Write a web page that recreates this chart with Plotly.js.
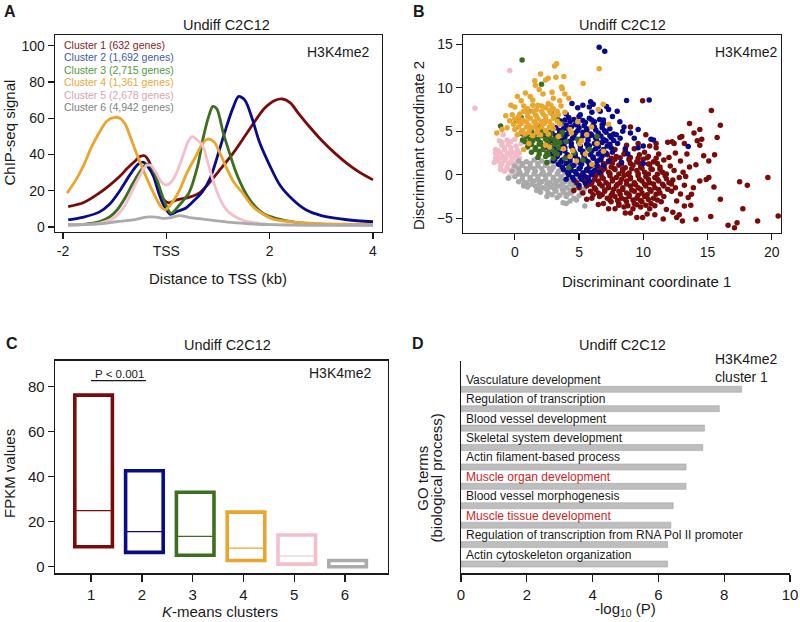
<!DOCTYPE html>
<html><head><meta charset="utf-8">
<script src="https://cdn.plot.ly/plotly-3.0.1.min.js"></script>
<style>html,body{margin:0;padding:0;background:#fff;}#chart{width:800px;height:622px;}</style>
</head><body><div id="chart"></div>
<script>
// ---------- DATA ----------
const clusterNames = ["Cluster 1 (632 genes)","Cluster 2 (1,692 genes)","Cluster 3 (2,715 genes)","Cluster 4 (1,361 genes)","Cluster 5 (2,678 genes)","Cluster 6 (4,942 genes)"];

// Panel A: ChIP-seq profiles (kb vs signal)
const profX1 = [-1.9,-1.6,-1.3,-1.1,-0.9,-0.75,-0.62,-0.5,-0.42,-0.35,-0.25,-0.15,-0.05,0.05,0.2,0.45,0.65,0.85,1.05,1.3,1.6,1.9,2.1,2.25,2.4,2.55,2.75,3.0,3.25,3.5,3.75,4.0];
const profY1 = [11.2,13.5,18.7,23,28,32.5,36,39,39.3,37,30,21,15,13.3,15,16.5,19,25,32,41,53.5,65.5,69.8,70.6,68.5,63,56,48,41,35,30,26];
const profX2 = [-1.9,-1.6,-1.3,-1.1,-0.9,-0.7,-0.55,-0.45,-0.35,-0.25,-0.15,-0.05,0.08,0.2,0.38,0.55,0.7,0.85,1.0,1.15,1.28,1.4,1.52,1.67,1.8,2.0,2.2,2.45,2.7,3.0,3.5,4.0];
const profY2 = [3.9,5.5,8.2,12.5,20,29,34.5,35.8,33,28,19,12,7,8.5,10.5,15,19.5,27,40,54,65,72,70,59,47,34,23,15,9.5,6.3,4,2.9];
const profX3 = [-1.9,-1.6,-1.3,-1.1,-0.95,-0.8,-0.65,-0.5,-0.38,-0.3,-0.2,-0.1,-0.02,0.09,0.25,0.44,0.6,0.72,0.82,0.9,0.98,1.1,1.22,1.35,1.5,1.67,1.9,2.12,2.5,3.0,3.5,4.0];
const profY3 = [1.2,1.5,2.8,5.5,9.5,16,24,31,34.7,33.5,27.5,19,13,7.5,12,19,33,50,61,66.5,65,52,41,30,20.5,13,7,4.8,2.6,1.5,1.2,1.0];
const profX4 = [-1.92,-1.75,-1.6,-1.45,-1.3,-1.15,-1.0,-0.9,-0.8,-0.65,-0.5,-0.35,-0.2,-0.1,-0.02,0.1,0.25,0.4,0.57,0.7,0.8,0.92,1.05,1.15,1.3,1.48,1.65,1.8,2.05,2.44,3.0,3.5,4.0];
const profY4 = [18.7,26,34,44,52,58.5,60.5,60,57,46,35,25,16,11,9.5,13,20,30,39,46,48.5,47,40,33.5,25,18.6,12,8.4,4.5,2.8,1.8,1.5,1.4];
const profX5 = [-1.9,-1.5,-1.3,-1.1,-0.97,-0.8,-0.65,-0.5,-0.38,-0.3,-0.2,-0.1,0,0.1,0.2,0.32,0.42,0.5,0.6,0.7,0.8,0.9,1.03,1.15,1.28,1.5,1.67,2.0,2.5,3.0,4.0];
const profY5 = [1.0,1.5,2.0,3.8,6,12,20.5,29,34,34,30,25,23.2,25,30,39,47,49.8,48,45,36,26,16,10,6.5,3.5,2.5,1.5,1.0,0.9,0.8];
const profX6 = [-1.9,-1.3,-0.97,-0.65,-0.39,-0.2,-0.07,0.1,0.25,0.45,0.64,0.83,1.03,1.3,1.6,2.0,3.0,4.0];
const profY6 = [1.1,1.7,2.9,3.9,5.5,5.5,4.8,5.2,6.3,5.2,4.6,3.9,3.2,2.4,1.8,1.3,1.0,0.9];
const profTickVals = [-2,0,2,4];
const profTickText = ["-2","TSS","2","4"];

// Panel B: discriminant coordinates [dc1, dc2] (representative genes)
const lda1 = [[7.8,2.9],[8.6,2.7],[9.3,3.0],[10.1,2.6],[7.2,2.3],[7.9,2.1],[8.5,2.4],[9.0,2.0],[9.7,2.3],[10.4,2.1],[11.2,2.4],
[6.6,1.7],[7.3,1.5],[7.8,1.8],[8.3,1.4],[8.9,1.7],[9.5,1.5],[10.0,1.8],[10.8,1.5],[11.6,1.7],
[6.0,1.1],[6.5,0.9],[7.0,1.2],[7.5,0.9],[8.1,1.1],[8.6,0.8],[9.2,1.1],[9.8,0.9],[10.5,1.2],[11.3,0.9],[12.1,1.0],
[5.6,0.5],[6.2,0.3],[6.8,0.5],[7.3,0.3],[7.8,0.6],[8.4,0.4],[8.9,0.2],[9.5,0.5],[10.1,0.3],[10.7,0.6],[11.5,0.3],[12.4,0.5],
[5.1,-0.1],[5.7,-0.3],[6.3,-0.1],[6.8,-0.3],[7.4,-0.1],[7.9,-0.3],[8.5,-0.1],[9.0,-0.3],[9.6,-0.1],[10.2,-0.2],[10.9,-0.3],[11.7,-0.1],[12.8,-0.3],
[4.8,-0.9],[5.4,-0.7],[6.0,-0.9],[6.5,-0.7],[7.1,-0.9],[7.6,-0.7],[8.2,-0.9],[8.7,-0.7],[9.3,-0.9],[9.9,-0.7],[10.5,-0.9],[11.2,-0.7],[12.0,-0.9],
[5.0,-1.5],[5.6,-1.3],[6.2,-1.5],[6.8,-1.3],[7.3,-1.5],[7.9,-1.3],[8.4,-1.5],[9.0,-1.3],[9.6,-1.5],[10.2,-1.3],[10.9,-1.5],[11.6,-1.3],[12.5,-1.5],
[5.3,-2.1],[5.9,-1.9],[6.5,-2.1],[7.0,-1.9],[7.6,-2.1],[8.1,-1.9],[8.7,-2.1],[9.3,-1.9],[9.9,-2.1],[10.6,-1.9],[11.3,-2.1],[12.2,-1.9],
[6.0,-2.7],[6.6,-2.5],[7.2,-2.7],[7.8,-2.5],[8.3,-2.7],[8.9,-2.5],[9.5,-2.7],[10.1,-2.5],[10.8,-2.7],[11.6,-2.5],
[6.9,-3.3],[7.5,-3.1],[8.1,-3.3],[8.7,-3.1],[9.3,-3.3],[9.9,-3.1],[10.6,-3.3],[11.4,-3.1],
[7.8,-3.9],[8.5,-3.7],[9.2,-3.9],[9.8,-3.7],[10.5,-3.9],[9.0,-4.4],[10.3,-4.5],
[6.3,-1.7],[7.0,-1.75],[7.7,-1.65],[8.4,-1.7],[9.1,-1.75],[9.8,-1.65],[10.5,-1.7],[11.2,-1.7],[11.9,-1.65],
[5.9,-1.1],[6.6,-1.05],[7.3,-1.15],[8.0,-1.1],[8.7,-1.05],[9.4,-1.15],[10.1,-1.1],[10.8,-1.05],[11.5,-1.1],[12.2,-1.05],
[5.5,-0.5],[6.2,-0.55],[6.9,-0.45],[7.6,-0.5],[8.3,-0.55],[9.0,-0.45],[9.7,-0.5],[10.4,-0.55],[11.1,-0.5],[11.8,-0.45],
[6.0,0.1],[6.7,0.05],[7.4,0.15],[8.1,0.1],[8.8,0.05],[9.6,0.15],[10.4,0.1],[11.1,0.05],[11.8,0.1],
[6.4,0.7],[7.0,0.7],[7.7,0.75],[8.4,0.65],[9.1,0.7],[9.9,0.75],[10.6,0.7],[11.3,0.65],
[6.1,-2.3],[6.8,-2.3],[7.5,-2.35],[8.2,-2.25],[8.9,-2.3],[9.6,-2.35],[10.3,-2.3],[11.0,-2.25],
[6.9,1.3],[7.6,1.35],[8.3,1.25],[9.0,1.3],[9.7,1.35],[10.4,1.25],[11.1,1.3],
[7.5,1.9],[8.2,1.95],[8.9,1.85],[9.6,1.9],[10.3,1.95],[11.0,1.9],
[7.4,-2.9],[8.0,-2.95],[8.6,-2.85],[9.2,-2.9],[9.8,-2.95],[10.4,-2.85],[11.1,-2.9],
[8.1,-3.5],[8.8,-3.55],[9.5,-3.45],[10.2,-3.5],[10.9,-3.55],
[20.5,-4.75],[19.7,-0.3],[18.9,-5.3],[18.1,-1.2],[17.75,-3.9],[17.5,-0.8],[17.3,-5.5],[17.1,-6.1],[16.6,-5.8],[16.0,5.7],
[15.75,4.3],[16.0,-2.8],[15.5,-1.4],[15.3,7.4],[15.25,-4.8],[15.1,-0.3],[14.55,4.1],[14.4,5.2],[14.2,3.9],[13.95,4.8],
[13.6,5.9],[13.0,4.4],[13.2,3.6],[12.4,3.6],[14.7,2.2],[15.55,2.3],[15.1,1.6],[14.1,1.15],[13.1,0.3],[14.9,-0.55],
[14.4,-0.7],[13.3,-0.2],[13.2,-1.2],[13.75,-2.25],[13.5,-2.6],[12.6,-3.0],[13.2,-3.6],[12.6,-4.9],[13.05,-5.3],[14.1,-5.1],
[12.25,3.8],[11.0,3.1],[9.95,8.5],[9.95,-4.9],[11.55,-5.07],[12.8,-4.6],[13.7,-3.5],[14.4,3.4],[12.85,4.3],[9.0,5.5],
[10.2,4.6],[11.0,3.6],[10.5,3.3],[9.6,3.6],[8.7,3.4],[11.9,3.75],[12.5,2.5],[12.9,1.6],[13.4,2.4],[10.9,-4.6],
[11.8,-4.0],[12.3,-4.3],[9.5,-4.9],[8.6,-4.4],[7.3,-3.9],[6.5,-3.4],[5.6,-2.8],[4.6,-1.8],[12.9,-2.2],[13.9,-1.5],
[12.3,-0.6],[13.6,0.9],[12.0,2.0]];
const lda2 = [[4.2,6.6],[5.0,6.7],[5.8,6.5],[3.6,6.0],[4.3,6.1],[4.9,5.9],[5.5,6.0],[6.2,6.1],[6.9,5.9],
[3.2,5.4],[3.8,5.3],[4.4,5.5],[5.0,5.4],[5.6,5.3],[6.2,5.5],[6.8,5.4],[7.4,5.3],
[2.9,4.8],[3.5,4.9],[4.1,4.7],[4.7,4.8],[5.3,4.9],[5.9,4.7],[6.5,4.8],[7.1,4.9],[7.7,4.7],
[2.7,4.2],[3.3,4.1],[3.9,4.3],[4.5,4.2],[5.1,4.1],[5.7,4.3],[6.3,4.2],[6.9,4.1],[7.5,4.3],[8.2,4.2],
[2.6,3.6],[3.2,3.7],[3.8,3.5],[4.4,3.6],[5.0,3.7],[5.6,3.5],[6.2,3.6],[6.8,3.7],[7.4,3.5],[8.0,3.6],
[2.7,3.0],[3.3,2.9],[3.9,3.1],[4.5,3.0],[5.1,2.9],[5.7,3.1],[6.3,3.0],[6.9,2.9],[7.5,3.1],
[2.9,2.4],[3.5,2.5],[4.1,2.3],[4.7,2.4],[5.3,2.5],[5.9,2.3],[6.5,2.4],[7.1,2.5],
[3.1,1.8],[3.7,1.7],[4.3,1.9],[4.9,1.8],[5.5,1.7],[6.1,1.9],[6.7,1.8],
[3.4,1.2],[4.0,1.3],[4.6,1.1],[5.2,1.2],[5.8,1.3],[6.4,1.1],
[3.8,0.6],[4.4,0.5],[5.0,0.7],[5.6,0.6],[6.2,0.5],[4.2,0.0],[4.8,0.1],[5.4,-0.1],[6.0,0.0],[4.6,-0.6],[5.2,-0.5],[5.8,-0.7],[5.0,-1.2],
[3.7,0.9],[4.4,0.95],[5.1,0.85],[5.8,0.9],[3.3,2.1],[4.0,2.05],[4.7,2.15],[5.4,2.1],[6.1,2.05],[6.8,2.15],
[3.0,3.3],[3.7,3.35],[4.4,3.25],[5.1,3.3],[5.8,3.35],[6.5,3.25],[7.2,3.3],
[3.2,4.5],[3.9,4.55],[4.6,4.45],[5.3,4.5],[6.0,4.55],[6.7,4.45],[7.4,4.5],
[4.0,5.7],[4.7,5.75],[5.4,5.65],[6.1,5.7],[6.8,5.75],
[3.2,2.7],[3.9,2.75],[4.6,2.65],[5.3,2.7],[6.0,2.75],[6.7,2.65],
[3.6,1.5],[4.3,1.55],[5.0,1.45],[5.7,1.5],[6.4,1.55],
[3.9,6.3],[4.6,6.35],[5.3,6.25],[6.0,6.3],[6.6,6.35],
[3.5,5.1],[4.2,5.15],[4.9,5.05],[5.6,5.1],[6.3,5.15],[7.0,5.05],
[2.9,3.9],[3.6,3.95],[4.3,3.85],[5.0,3.9],[5.7,3.95],[6.4,3.85],[7.1,3.9],[7.7,3.95],
[4.1,0.3],[4.7,0.35],[5.3,0.25],[5.9,0.3],[4.5,-0.3],[5.1,-0.25],[5.7,-0.35],
[6.57,14.67],[7.0,14.2],[8.7,8.54],[10.46,8.6],[5.9,8.4],[6.1,8.1],[5.8,7.8],[4.45,8.2],[4.9,7.7],[5.3,8.0],
[7.14,7.85],[7.3,7.5],[7.97,7.3],[6.65,7.3],[8.18,6.1],[5.1,6.9],[6.9,6.3],[7.6,6.7],[8.5,5.5],[9.0,4.8],
[9.3,4.2],[10.0,3.3],[10.6,4.1],[10.8,4.0],[9.6,3.1],[8.8,2.4],[8.3,1.4],[13.5,3.25],[10.0,1.3],[7.6,2.6],
[8.6,3.0],[7.9,4.6],[8.4,5.0],[6.0,7.2],[4.0,7.0],[3.5,6.2],[7.3,1.6],[6.9,1.0],[6.6,0.3],[3.0,1.6],
[2.4,3.2],[2.3,4.6],[4.0,-0.5],[5.5,-1.0],[9.6,5.2]];
const lda3 = [[1.3,5.0],[2.0,5.1],[2.7,4.9],[0.9,4.4],[1.5,4.3],[2.1,4.5],[2.7,4.4],[3.3,4.3],
[0.8,3.8],[1.4,3.9],[2.0,3.7],[2.6,3.8],[3.2,3.9],[1.0,3.2],[1.6,3.1],[2.2,3.3],[2.8,3.2],[3.4,3.1],
[1.3,2.6],[1.9,2.7],[2.5,2.5],[3.1,2.6],[1.8,2.0],[2.4,2.1],[3.0,1.9],
[1.2,4.1],[1.8,4.1],[2.4,4.1],[3.0,4.1],[1.3,3.5],[1.9,3.5],[2.5,3.5],[3.1,3.5],[1.6,2.9],[2.2,2.9],[2.8,2.9],[0.6,4.7],[3.5,3.7],
[1.0,4.7],[1.6,4.75],[2.2,4.65],[2.8,4.7],[1.1,3.5],[1.9,2.35],[2.6,2.3],[3.3,2.4],[0.6,4.0],[3.6,4.6],
[0.57,13.2],[2.08,10.4],[-1.1,5.6],[0.1,6.2],[1.09,7.3],[2.86,7.1],[4.0,3.8],[4.6,2.5],[5.3,1.7],[3.7,4.9],
[4.2,0.8],[5.8,2.9],[6.4,4.4],[2.2,6.1],[0.5,6.6],[3.6,5.9],[2.5,1.4],[4.9,4.1],[3.9,1.9],[1.8,5.6],[3.3,6.5]];
const lda4 = [[1.0,7.6],[1.7,7.5],[2.4,7.7],[3.0,7.6],[0.4,7.0],[1.0,7.1],[1.6,6.9],[2.2,7.0],[2.8,7.1],[3.4,6.9],
[0.0,6.4],[0.6,6.3],[1.2,6.5],[1.8,6.4],[2.4,6.3],[3.0,6.5],
[-0.1,5.8],[0.5,5.9],[1.1,5.7],[1.7,5.8],[2.3,5.9],[2.9,5.7],[3.5,5.8],
[0.0,5.2],[0.6,5.1],[1.2,5.3],[1.8,5.2],[2.4,5.1],[3.0,5.3],[0.2,4.6],[0.8,4.7],[1.4,4.5],[2.0,4.6],[2.6,4.7],
[0.3,6.7],[1.0,6.7],[1.7,6.7],[2.4,6.7],[3.1,6.75],[0.3,5.5],[0.9,5.5],[1.5,5.5],[2.1,5.5],[2.7,5.5],
[0.5,4.9],[1.1,4.9],[1.7,4.9],[0.3,6.1],[0.9,6.1],[1.5,6.1],[2.1,6.1],[2.7,6.1],[3.3,6.15],
[0.7,7.3],[1.4,7.3],[2.1,7.3],[2.7,7.35],[0.7,7.9],[1.4,8.0],[2.1,7.9],[2.8,8.0],[3.3,7.3],[-0.2,6.9],
[3.25,12.76],[3.1,12.5],[2.0,11.6],[2.6,11.1],[2.4,10.9],[3.2,11.2],[1.56,10.8],[3.7,9.9],[1.6,10.3],[0.83,9.4],
[2.2,9.3],[2.9,9.5],[0.5,8.5],[0.0,7.8],[6.57,12.2],[5.32,10.5],[3.82,11.3],[3.64,10.1],[3.9,9.3],[6.88,8.1],
[4.2,8.8],[3.5,8.5],[1.4,8.6],[2.6,8.2],[-1.4,4.8],[-1.0,5.2],[-0.6,5.4],[-0.4,6.2],[4.5,2.8],[5.2,3.9],
[6.0,1.2],[4.8,1.6],[5.6,4.6],[6.4,3.6],[3.8,3.0],[4.3,5.2],[6.9,2.7],[7.3,5.8],[6.5,7.5],[4.9,6.1],
[3.9,7.2],[1.9,9.8],[0.2,9.0],[-0.3,8.0],[2.7,3.2],[4.3,2.1],[5.06,3.56],[5.97,5.5],[4.4,4.8],[1.8,8.0],
[3.0,8.8],[1.2,9.0],[2.4,3.4],[3.4,4.4],[5.5,2.4],[1.1,3.6],[0.7,2.9],[3.6,7.9],[-0.7,6.8]];
const lda5 = [[-0.6,4.0],[0.0,4.1],[-1.0,3.4],[-0.5,3.5],[0.1,3.3],[-1.3,2.8],[-0.8,2.9],[-0.3,2.7],[0.2,2.8],
[-1.4,2.2],[-0.9,2.1],[-0.4,2.3],[0.1,2.2],[-1.3,1.6],[-0.8,1.7],[-0.3,1.5],[0.2,1.6],
[-1.1,1.0],[-0.6,0.9],[-0.1,1.1],[0.4,1.0],[-0.8,0.4],[-0.3,0.5],[0.2,0.3],[-0.4,-0.2],
[-1.1,2.5],[-0.6,2.5],[-0.1,2.5],[-1.0,1.3],[-0.5,1.3],[0.0,1.3],[-0.8,3.1],[-0.3,3.1],[-1.2,1.9],[-0.7,1.9],[-0.2,1.9],[-0.6,0.7],[-0.1,0.7],
[-1.0,3.75],[-0.3,3.8],[-1.5,2.5],[0.35,2.5],[0.35,1.9],[-1.5,1.9],[-1.1,0.6],
[-0.39,12.0],[-3.1,7.65],[-1.5,2.9],[-0.9,4.6],[2.9,0.6],[2.5,1.1],[-1.6,1.4],[0.5,3.6],[3.4,1.3],[-1.2,3.9]];
const lda6 = [[0.3,1.6],[0.9,1.5],[1.5,1.7],[2.1,1.6],[0.0,1.0],[0.6,1.1],[1.2,0.9],[1.8,1.0],[2.4,1.1],[3.0,0.9],
[-0.2,0.4],[0.4,0.3],[1.0,0.5],[1.6,0.4],[2.2,0.3],[2.8,0.5],[3.4,0.4],
[0.0,-0.2],[0.6,-0.1],[1.2,-0.3],[1.8,-0.2],[2.4,-0.1],[3.0,-0.3],[3.6,-0.2],[4.2,-0.1],
[0.3,-0.8],[0.9,-0.9],[1.5,-0.7],[2.1,-0.8],[2.7,-0.9],[3.3,-0.7],[3.9,-0.8],[4.5,-0.9],
[1.0,-1.4],[1.6,-1.3],[2.2,-1.5],[2.8,-1.4],[3.4,-1.3],[4.0,-1.5],[4.6,-1.4],
[2.0,-2.0],[2.6,-2.1],[3.2,-1.9],[3.8,-2.0],[4.4,-2.1],[3.3,-2.6],[4.0,-2.5],[4.6,-2.7],
[0.3,0.7],[0.9,0.7],[1.5,0.7],[2.1,0.7],[2.7,0.7],[0.3,0.1],[0.9,0.1],[1.5,0.1],[2.1,0.1],[2.7,0.1],[3.3,0.1],
[0.6,-0.5],[1.2,-0.5],[1.8,-0.5],[2.4,-0.5],[3.0,-0.5],[3.6,-0.5],[1.3,-1.1],[1.9,-1.1],[2.5,-1.1],[3.1,-1.1],[3.7,-1.1],[4.3,-1.1],
[2.5,-1.7],[3.1,-1.7],[3.7,-1.7],[0.6,1.3],[1.2,1.3],[1.8,1.3],
[1.9,-1.7],[4.3,-1.75],[2.9,-2.3],[3.5,-2.35],[4.1,-2.25],[3.9,0.2],[4.2,-0.5],[0.7,-1.1],[2.4,1.35],[3.6,0.6],
[3.76,-3.2],[5.45,-3.6],[1.7,-1.8],[4.8,-2.9],[5.0,-2.4],[4.3,-3.0],[2.5,-2.5],[0.7,-1.3],[5.4,-1.6],[4.9,-0.6],
[2.8,1.5],[3.6,0.9],[5.2,-2.0],[4.0,-3.3],[-0.5,-0.4],[3.3,1.4]];

// Panel C: FPKM box summaries per k-means cluster
const kClusters = [1,2,3,4,5,6];
const fpkmQ1 = [8.9,6.4,5.1,2.8,1.2,0.0];
const fpkmMedian = [25.0,15.6,13.5,8.3,4.8,0.4];
const fpkmQ3 = [76.3,42.7,33.1,24.3,14.1,2.8];

// Panel D: GO terms (top to bottom) and -log10(P)
const goTerms = ["Vasculature development","Regulation of transcription","Blood vessel development","Skeletal system development","Actin filament-based process","Muscle organ development","Blood vessel morphogenesis","Muscle tissue development","Regulation of transcription from RNA Pol II promoter","Actin cytoskeleton organization"];
const goLogP = [8.53,7.85,7.40,7.35,6.84,6.84,6.45,6.38,6.28,6.28];
const goMuscle = [false,false,false,false,false,true,false,true,false,false];

// ---------- STYLE ----------
const FONT = "Liberation Sans, Arial, Helvetica, sans-serif";
const INK = "#1a1a1a";
const lineCols = ["#7A0B0B","#0B0B8A","#3E6E20","#E9A52D","#F3BFCB","#ABABAB"];
const dotCols  = ["#7A0B0B","#0A0A88","#3B6B1E","#E8A62E","#F1BCC8","#A9A9A9"];
const legCols  = ["#8B1A1A","#3A5BB0","#4C9A3E","#E9A73A","#D8A6B1","#7F7F7F"];
const px = v => v/800, py = v => 1 - v/622;

const traces = [];
const profX = [profX1,profX2,profX3,profX4,profX5,profX6];
const profY = [profY1,profY2,profY3,profY4,profY5,profY6];
for (let i=0;i<6;i++){
  traces.push({type:"scatter",mode:"lines",x:profX[i],y:profY[i],xaxis:"x",yaxis:"y",
    name:clusterNames[i],line:{color:lineCols[i],width:2.8,shape:"spline",smoothing:0.8},hoverinfo:"skip"});
}
const ldaSets = [lda1,lda2,lda3,lda4,lda5,lda6];
[4,5,0,1,2,3].forEach(i=>{
  traces.push({type:"scatter",mode:"markers",x:ldaSets[i].map(p=>p[0]),y:ldaSets[i].map(p=>p[1]),
    xaxis:"x2",yaxis:"y2",name:clusterNames[i],marker:{color:dotCols[i],size:5.5,line:{width:0}},hoverinfo:"skip"});
});
// Panel C boxes
const boxW = 0.74, boxOff = -0.32;
traces.push({type:"bar",x:kClusters,base:fpkmQ1,y:fpkmQ3.map((v,i)=>v-fpkmQ1[i]),width:boxW,offset:boxOff,
  xaxis:"x3",yaxis:"y3",marker:{color:"rgba(0,0,0,0)",line:{color:lineCols,width:3.6}},hoverinfo:"skip"});
for (let i=0;i<6;i++){
  traces.push({type:"scatter",mode:"lines",x:[kClusters[i]+boxOff,kClusters[i]+boxOff+boxW],y:[fpkmMedian[i],fpkmMedian[i]],
    xaxis:"x3",yaxis:"y3",line:{color:lineCols[i],width:1.2},hoverinfo:"skip"});
}
traces.push({type:"scatter",mode:"lines",x:[1,2.08],y:[82.7,82.7],xaxis:"x3",yaxis:"y3",line:{color:INK,width:1.3},hoverinfo:"skip"});
// Panel D bars
const goPos = goTerms.map((t,i)=>goTerms.length-i);
traces.push({type:"bar",orientation:"h",x:goLogP,y:goPos,width:0.31,xaxis:"x4",yaxis:"y4",
  marker:{color:"#BEBEBE",line:{color:"#A6A6A6",width:0.6}},hoverinfo:"skip"});

// ---------- LAYOUT ----------
const tf = s => ({family:FONT,size:s,color:INK});
const boxAxis = {showline:true,mirror:true,linecolor:INK,linewidth:1.4,ticks:"outside",ticklen:6,tickwidth:1.3,tickcolor:INK,showgrid:false,zeroline:false,fixedrange:true};
const layout = {
  width:800,height:622,margin:{l:0,r:0,t:0,b:0},paper_bgcolor:"#fff",plot_bgcolor:"#fff",showlegend:false,
  font:{family:FONT,color:INK},
  xaxis:Object.assign({},boxAxis,{domain:[px(55),px(382)],range:[-2.155,4.174],tickvals:profTickVals,ticktext:profTickText,tickfont:tf(14),anchor:"y"}),
  yaxis:Object.assign({},boxAxis,{domain:[py(232),py(35)],range:[-2.76,105.9],tickvals:[0,20,40,60,80,100],tickfont:tf(14),anchor:"x"}),
  xaxis2:Object.assign({},boxAxis,{domain:[px(463),px(781)],range:[-4.03,20.72],tickvals:[0,5,10,15,20],tickfont:tf(14),anchor:"y2"}),
  yaxis2:Object.assign({},boxAxis,{domain:[py(233),py(35)],range:[-6.69,16.07],tickvals:[-5,0,5,10,15],tickfont:tf(14),anchor:"x2"}),
  xaxis3:Object.assign({},boxAxis,{domain:[px(55),px(387.7)],range:[0.29,6.84],tickvals:kClusters,tickfont:tf(15),ticklen:7,anchor:"y3"}),
  yaxis3:Object.assign({},boxAxis,{domain:[py(573.3),py(360.7)],range:[-2.9,91.6],tickvals:[0,20,40,60,80],tickfont:tf(15),anchor:"x3"}),
  xaxis4:{domain:[px(461),px(790)],range:[0,10],tickvals:[0,2,4,6,8,10],tickfont:tf(15),showline:true,linecolor:INK,linewidth:1.4,
    ticks:"outside",ticklen:7,tickwidth:1.3,tickcolor:INK,showgrid:false,zeroline:false,anchor:"y4",fixedrange:true},
  yaxis4:{domain:[py(573.3),py(361)],range:[0.521,11.458],showline:true,linecolor:INK,linewidth:1.4,ticks:"",showticklabels:false,
    showgrid:false,zeroline:false,anchor:"x4",fixedrange:true},
  annotations:[]
};
const A = layout.annotations;
function ann(text,x,y,o){A.push(Object.assign({text:text,x:px(x),y:py(y),xref:"paper",yref:"paper",showarrow:false,
  xanchor:"center",yanchor:"middle",font:tf(14.5)},o||{}));}
// panel letters
ann("<b>A</b>",2,11,{xanchor:"left",font:tf(16)});
ann("<b>B</b>",411,11,{xanchor:"left",font:tf(16)});
ann("<b>C</b>",4,343.5,{xanchor:"left",font:tf(16)});
ann("<b>D</b>",410,343.5,{xanchor:"left",font:tf(16)});
// titles
ann("Undiff C2C12",226.7,25);
ann("Undiff C2C12",622.3,25);
ann("Undiff C2C12",227.5,345);
ann("Undiff C2C12",622.8,345);
// mark labels
ann("H3K4me2",371,51.7,{xanchor:"right",font:tf(14)});
ann("H3K4me2",779,51.7,{xanchor:"right",font:tf(14)});
ann("H3K4me2",373,372.7,{xanchor:"right",font:tf(14)});
ann("H3K4me2",713,359.3,{xanchor:"left",font:tf(14)});
ann("cluster 1",713,377.3,{xanchor:"left",font:tf(14)});
// axis titles
ann("Distance to TSS (kb)",218,278.3,{font:tf(15)});
ann("ChIP-seq signal",9,132.5,{textangle:-90,font:tf(15)});
ann("Discriminant coordinate 1",646.7,281,{font:tf(15)});
ann("Discriminant coordinate 2",418.3,145.8,{textangle:-90,font:tf(15)});
ann("<i>K</i>-means clusters",220,611.7,{font:tf(15)});
ann("FPKM values",9,474,{textangle:-90,font:tf(15)});
ann("-log<sub>10</sub> (P)",625,609,{font:tf(15)});
ann("GO terms",421.7,478,{textangle:-90,font:tf(15)});
ann("(biological process)",435.5,478,{textangle:-90,font:tf(15)});
// legend of panel A
clusterNames.forEach((n,i)=>ann(n,61.5,45+12.45*i,{xanchor:"left",font:{family:FONT,size:10.5,color:legCols[i]}}));
// P value
A.push({text:"P < 0.001",x:1.55,y:82.7,xref:"x3",yref:"y3",showarrow:false,xanchor:"center",yanchor:"bottom",yshift:-1,font:tf(11.5)});
// GO labels
goTerms.forEach((t,i)=>A.push({text:t,x:0,y:goPos[i],xref:"x4",yref:"y4",showarrow:false,xanchor:"left",yanchor:"middle",
  xshift:3,yshift:9.5,font:{family:FONT,size:12,color:goMuscle[i]?"#CC1F1F":INK}}));

Plotly.newPlot("chart",traces,layout,{staticPlot:true,displayModeBar:false});
</script></body></html>
